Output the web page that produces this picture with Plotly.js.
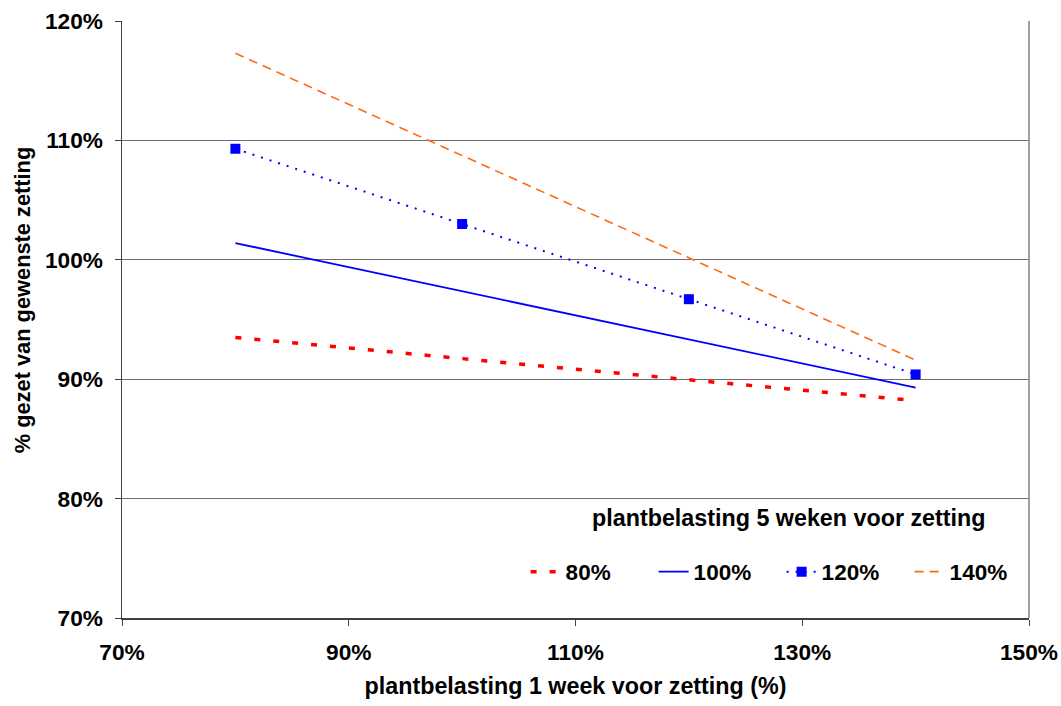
<!DOCTYPE html>
<html>
<head>
<meta charset="utf-8">
<script src="https://cdn.plot.ly/plotly-3.0.1.min.js"></script>
<style>
  html, body { margin: 0; padding: 0; background: #fff; }
  #chart { width: 1061px; height: 706px; }
</style>
</head>
<body>
<div id="chart"></div>
<script>
// plantbelasting 1 week voor zetting (%)
const belasting1Week = [80, 100, 120, 140];

// % gezet van gewenste zetting, per plantbelasting 5 weken voor zetting
const serie80 = [93.5, 91.7, 89.95, 88.2];
const serie100 = [101.4, 97.35, 93.35, 89.3];
const serie120 = [109.3, 103.0, 96.7, 90.4];
const serie140 = [117.3, 108.75, 100.15, 91.6];

const serieNamen = ['80%', '100%', '120%', '140%'];

const yTicks = [70, 80, 90, 100, 110, 120];
const xTicks = [70, 90, 110, 130, 150];
const pct = v => v + '%';

const font = 'Liberation Sans, Arial, sans-serif';
const bold = size => ({ family: font, size: size, weight: 'bold', color: '#000' });

const traces = [
  {
    x: belasting1Week, y: serie80, name: serieNamen[0], mode: 'lines',
    line: { color: '#FF0000', width: 3.5, dash: '6px,13px' }
  },
  {
    x: belasting1Week, y: serie100, name: serieNamen[1], mode: 'lines',
    line: { color: '#0000FF', width: 1.8 }
  },
  {
    x: belasting1Week, y: serie120, name: serieNamen[2], mode: 'lines+markers',
    line: { color: '#0000FF', width: 2, dash: '2px,7px' },
    marker: { symbol: 'square', size: 10, color: '#0000FF' }
  },
  {
    x: belasting1Week, y: serie140, name: serieNamen[3], mode: 'lines',
    line: { color: '#FF6A10', width: 1.6, dash: '9px,6px' }
  }
];

const layout = {
  width: 1061, height: 706,
  margin: { l: 122, r: 32, t: 21, b: 88, autoexpand: false },
  paper_bgcolor: '#ffffff', plot_bgcolor: '#ffffff',
  font: { family: font, color: '#000', size: 18 },
  showlegend: true,
  legend: {
    orientation: 'h',
    x: 0.445, xanchor: 'left',
    y: 0.077, yanchor: 'middle',
    bgcolor: 'rgba(0,0,0,0)',
    font: bold(22.5),
    entrywidth: 83, entrywidthmode: 'pixels',
    traceorder: 'normal'
  },
  xaxis: {
    range: [70, 150],
    automargin: false,
    tickvals: xTicks, ticktext: xTicks.map(pct),
    showgrid: false, zeroline: false,
    showline: true, linecolor: '#404040', linewidth: 1.5,
    ticks: 'outside', ticklen: 6, tickcolor: '#404040',
    ticklabelstandoff: 7,
    tickfont: bold(22.7),
    title: { text: 'plantbelasting 1 week voor zetting (%)', font: bold(23.3), standoff: 14 }
  },
  yaxis: {
    range: [70, 120],
    automargin: false,
    tickvals: yTicks, ticktext: yTicks.map(pct),
    showgrid: true, gridcolor: '#6e6e6e', gridwidth: 1,
    zeroline: false,
    showline: true, linecolor: '#404040', linewidth: 1.5,
    ticks: 'outside', ticklen: 6, tickcolor: '#404040',
    ticklabelstandoff: 7,
    tickfont: bold(22.7)
  },
  shapes: [
    { type: 'line', xref: 'paper', yref: 'paper', x0: 1, x1: 1, y0: 0, y1: 1,
      line: { color: '#808080', width: 1.5 } }
  ],
  annotations: [
    {
      text: '% gezet van gewenste zetting',
      xref: 'paper', yref: 'paper', x: -0.1098, y: 0.533,
      xanchor: 'center', yanchor: 'middle', textangle: -90, showarrow: false,
      font: bold(21.8)
    },
    {
      text: 'plantbelasting 5 weken voor zetting',
      xref: 'paper', yref: 'paper', x: 0.735, y: 0.167,
      xanchor: 'center', yanchor: 'middle', showarrow: false,
      font: bold(23.3)
    }
  ]
};

Plotly.newPlot('chart', traces, layout, { displayModeBar: false, staticPlot: true });
</script>
</body>
</html>
